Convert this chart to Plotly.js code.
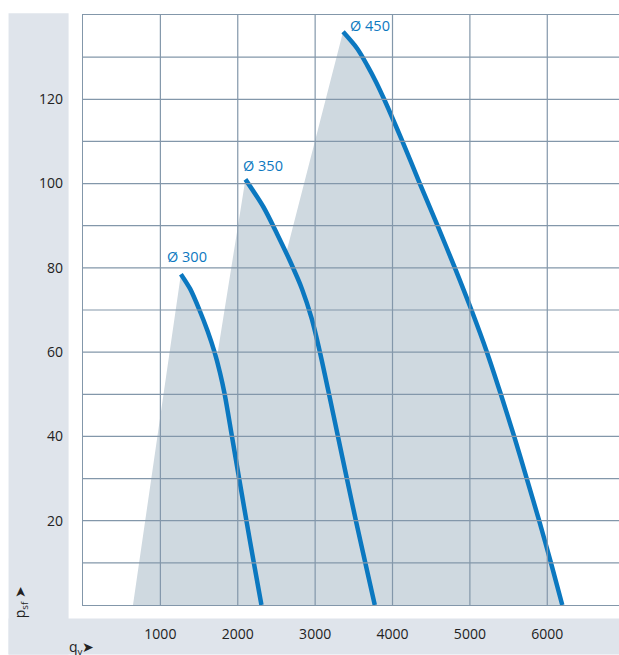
<!DOCTYPE html>
<html>
<head>
<meta charset="utf-8">
<script src="https://cdn.plot.ly/plotly-3.0.1.min.js"></script>
<style>html,body{margin:0;padding:0;background:#fff;}#chart{width:619px;height:655px;}</style>
</head>
<body>
<div id="chart"></div>
<script>
// Fan curves: airflow q_v (m3/h) vs static pressure p_sf (Pa)
const q300 = [1265, 1385, 1505, 1610, 1700, 1772, 1831, 1925, 2018, 2112, 2208, 2306];
const p300 = [78.5, 75, 70, 65, 60, 55, 50, 40, 30, 20, 10, 0];

const q350 = [2099, 2330, 2510, 2678, 2830, 2955, 3062, 3180, 3295, 3410, 3527, 3648, 3771];
const p350 = [101, 94.5, 88, 81.5, 75, 68, 60, 50, 40, 30, 20, 10, 0];

const q450 = [3361, 3545, 3675, 3790, 3892, 4128, 4353, 4582, 4806, 5020, 5220, 5400, 5572, 5735, 5895, 6048, 6194];
const p450 = [136, 132, 128, 124, 120, 110, 100, 90, 80, 70, 60, 50, 40, 30, 20, 10, 0];

// Operating-range envelope (shaded area)
const envQ = [646, 1265, 1385, 1505, 1610, 1700, 1726, 2099, 2330, 2510, 2626, 3361, 3545, 3675, 3790, 3892, 4128, 4353, 4582, 4806, 5020, 5220, 5400, 5572, 5735, 5895, 6048, 6194, 646];
const envP = [0, 78.5, 75, 70, 65, 60, 58.2, 101, 94.5, 88, 83.5, 136, 132, 128, 124, 120, 110, 100, 90, 80, 70, 60, 50, 40, 30, 20, 10, 0, 0];

const curveNames = ['Ø 300', 'Ø 350', 'Ø 450'];
const labelQ = [1060, 2040, 3425];
const labelP = [82.6, 104.4, 137.6];

const xTicks = [1000, 2000, 3000, 4000, 5000, 6000];
const yTicks = [20, 40, 60, 80, 100, 120];
const xGrid = [1000, 2000, 3000, 4000, 5000, 6000];
const yGrid = [10, 20, 30, 40, 50, 60, 70, 80, 90, 100, 110, 120, 130];

const blue = '#0b78c0';
const gridC = '#8397aa';
const bandC = '#dfe4eb';

const traces = [
  {x: envQ, y: envP, mode: 'lines', fill: 'toself', fillcolor: '#cfd9e0', line: {width: 0}, hoverinfo: 'skip', showlegend: false},
  {x: q300, y: p300, mode: 'lines', line: {color: blue, width: 4.5, shape: 'spline', smoothing: 0.8}, name: curveNames[0], showlegend: false},
  {x: q350, y: p350, mode: 'lines', line: {color: blue, width: 4.5, shape: 'spline', smoothing: 0.8}, name: curveNames[1], showlegend: false},
  {x: q450, y: p450, mode: 'lines', line: {color: blue, width: 4.5, shape: 'spline', smoothing: 0.8}, name: curveNames[2], showlegend: false}
];

const annotations = curveNames.map((t, i) => ({
  x: labelQ[i], y: labelP[i], xref: 'x', yref: 'y', text: t, showarrow: false,
  xanchor: 'left', yanchor: 'middle', font: {family: 'Open Sans, sans-serif', size: 14.5, color: blue}
}));
annotations.push({
  xref: 'paper', yref: 'paper', x: -0.117, y: 0.005, text: 'p<sub>sf</sub> ➤', textangle: -90,
  showarrow: false, xanchor: 'center', yanchor: 'middle', font: {family: 'Open Sans, sans-serif', size: 14, color: '#222'}
});
annotations.push({
  xref: 'paper', yref: 'paper', x: -0.002, y: -0.072, text: 'q<sub>v</sub>➤',
  showarrow: false, xanchor: 'center', yanchor: 'middle', font: {family: 'Open Sans, sans-serif', size: 14, color: '#222'}
});

const shapes = [
  {type: 'rect', xref: 'paper', yref: 'paper', layer: 'below', line: {width: 0}, fillcolor: bandC,
   x0: -74.4/535.6, x1: -14.4/535.6, y0: -49.5/590.8, y1: 1.003},
  {type: 'rect', xref: 'paper', yref: 'paper', layer: 'below', line: {width: 0}, fillcolor: bandC,
   x0: -74.4/535.6, x1: 1.0, y0: -49.5/590.8, y1: -13.5/590.8}
];
xGrid.forEach(v => shapes.push({type: 'line', xref: 'x', yref: 'paper', x0: v, x1: v, y0: 0, y1: 1, layer: 'above', line: {color: gridC, width: 1.2}}));
yGrid.forEach(v => shapes.push({type: 'line', xref: 'paper', yref: 'y', x0: 0, x1: 1, y0: v, y1: v, layer: 'above', line: {color: gridC, width: 1.2}}));

const layout = {
  width: 619, height: 655,
  margin: {l: 83.4, r: 0, t: 14.7, b: 49.5},
  paper_bgcolor: '#ffffff', plot_bgcolor: 'rgba(0,0,0,0)',
  showlegend: false,
  xaxis: {
    range: [0, 6927], tickvals: xTicks, ticktext: xTicks.map(String),
    showgrid: false, zeroline: false,
    showline: true, linecolor: gridC, linewidth: 1.2, mirror: true, layer: 'above traces',
    ticks: '', ticklabelstandoff: 16,
    tickfont: {family: 'Open Sans, sans-serif', size: 14, color: '#222'}
  },
  yaxis: {
    range: [0, 140], tickvals: yTicks, ticktext: yTicks.map(String),
    showgrid: false, zeroline: false,
    showline: true, linecolor: gridC, linewidth: 1.2, mirror: true, layer: 'above traces',
    ticks: '', ticklabelstandoff: 16,
    tickfont: {family: 'Open Sans, sans-serif', size: 14, color: '#222'}
  },
  shapes: shapes,
  annotations: annotations
};

Plotly.newPlot('chart', traces, layout, {displayModeBar: false, staticPlot: true});
</script>
</body>
</html>
